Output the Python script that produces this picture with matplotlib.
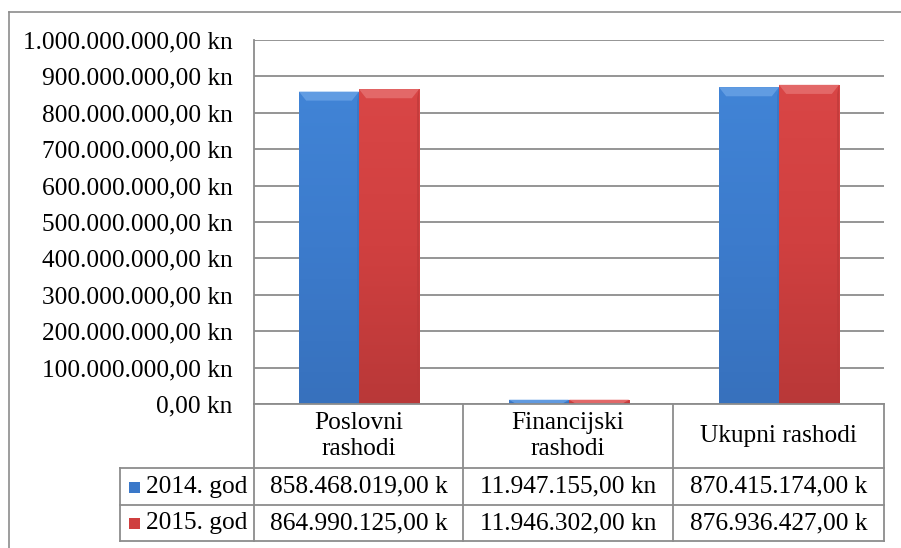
import numpy as np
import matplotlib.pyplot as plt
from matplotlib.colors import LinearSegmentedColormap
from matplotlib.patches import Rectangle, Polygon

plt.rcParams['font.family'] = ['Liberation Serif', 'DejaVu Serif']

# data
categories = ["Poslovni\nrashodi", "Financijski\nrashodi", "Ukupni rashodi"]
series = ["2014. god", "2015. god"]
values_2014 = [858468019, 11947155, 870415174]
values_2015 = [864990125, 11946302, 876936427]
cells_2014 = ["858.468.019,00 k", "11.947.155,00 kn", "870.415.174,00 k"]
cells_2015 = ["864.990.125,00 k", "11.946.302,00 kn", "876.936.427,00 k"]
yticks = np.arange(0, 1000000001, 100000000)
ytick_labels = ["0,00 kn", "100.000.000,00 kn", "200.000.000,00 kn", "300.000.000,00 kn",
                "400.000.000,00 kn", "500.000.000,00 kn", "600.000.000,00 kn",
                "700.000.000,00 kn", "800.000.000,00 kn", "900.000.000,00 kn",
                "1.000.000.000,00 kn"]

W, H = 901, 548
fig = plt.figure(figsize=(W / 100, H / 100), dpi=100)
fs = 18.3
grey = "#8c8c8c"


def fx(px):
    return px / W


def fy(py):
    return 1 - py / H


# outer chart border (left + top visible, cropped right/bottom)
fig.add_artist(plt.Line2D([fx(9), fx(9)], [fy(12), fy(548)], color=grey, lw=1.2))
fig.add_artist(plt.Line2D([fx(9), fx(901)], [fy(12), fy(12)], color=grey, lw=1.2))

left, right, top, bottom = 254, 884, 40, 404
ax = fig.add_axes([fx(left), fy(bottom), fx(right - left), (bottom - top) / H])
ax.set_xlim(-0.5, 2.5)
ax.set_ylim(0, 1000000000)
for s in ["top", "right", "bottom"]:
    ax.spines[s].set_visible(False)
ax.spines["left"].set_color(grey)
ax.spines["left"].set_linewidth(1.3)
ax.set_yticks(yticks)
ax.set_yticklabels(ytick_labels, fontsize=fs)
ax.tick_params(axis="y", length=0, pad=15.5)
ax.set_xticks([])
ax.yaxis.grid(True, color=grey, lw=1.3)
ax.set_axisbelow(True)

blue_cm = LinearSegmentedColormap.from_list("b", ["#3771bd", "#3c7bcc", "#4184d6"])
red_cm = LinearSegmentedColormap.from_list("r", ["#b93838", "#d04040", "#d94646"])
bevel = {"b": "#6aa3e6", "r": "#e67272"}
bw = 0.286
x = np.arange(len(categories))
grad = np.linspace(0, 1, 256).reshape(-1, 1)
for vals, off, cm, key in [(values_2014, -bw / 2, blue_cm, "b"),
                           (values_2015, bw / 2, red_cm, "r")]:
    bars = ax.bar(x + off, vals, width=bw, color=cm(0.6), edgecolor="none", zorder=3)
    for b in bars:
        x0, w, h = b.get_x(), b.get_width(), b.get_height()
        im = ax.imshow(grad, extent=[x0, x0 + w, 0, h], origin="lower", cmap=cm,
                       aspect="auto", interpolation="bilinear", zorder=3.1)
        im.set_clip_path(b)
        d = min(h, 25000000)
        dx = w * 0.12
        ax.add_patch(Polygon([[x0, h], [x0 + w, h], [x0 + w - dx, h - d], [x0 + dx, h - d]],
                             closed=True, color=bevel[key], alpha=0.8, lw=0, zorder=3.2))
        ax.add_patch(Polygon([[x0 + w, h], [x0 + w, 0], [x0 + w - w * 0.04, 0],
                              [x0 + w - w * 0.04, h - d]],
                             closed=True, color=cm(0.0), alpha=0.6, lw=0, zorder=3.2))
ax.set_xlim(-0.5, 2.5)
ax.set_ylim(0, 1000000000)

# data table
col_edges = [254, 463, 673, 884]
row_edges = [404, 468, 505, 541]
hdr_left = 120


def hline(y, x0, x1):
    fig.add_artist(plt.Line2D([fx(x0), fx(x1)], [fy(y), fy(y)], color=grey, lw=1.3))


def vline(xp, y0, y1):
    fig.add_artist(plt.Line2D([fx(xp), fx(xp)], [fy(y0), fy(y1)], color=grey, lw=1.3))


hline(404, 254, 884)
hline(468, hdr_left, 884)
hline(505, hdr_left, 884)
hline(541, hdr_left, 884)
for xp in col_edges:
    vline(xp, 404, 541)
vline(hdr_left, 468, 541)

for i, cat in enumerate(categories):
    cx = (col_edges[i] + col_edges[i + 1]) / 2
    fig.text(fx(cx), fy((row_edges[0] + row_edges[1]) / 2), cat, ha="center",
             va="center", fontsize=fs, linespacing=1.2)

key_colors = ["#3a78c9", "#cf3f3f"]
for r, (name, cells) in enumerate(zip(series, [cells_2014, cells_2015])):
    cy = (row_edges[r + 1] + row_edges[r + 2]) / 2
    fig.add_artist(Rectangle((fx(129), fy(cy + 6)), fx(11), 11 / H,
                             color=key_colors[r], lw=0))
    fig.text(fx(146), fy(cy), name, ha="left", va="center", fontsize=fs)
    for i, c in enumerate(cells):
        cx = (col_edges[i] + col_edges[i + 1]) / 2
        fig.text(fx(cx), fy(cy), c, ha="center", va="center", fontsize=fs)

fig.savefig("out.png", dpi=100)
